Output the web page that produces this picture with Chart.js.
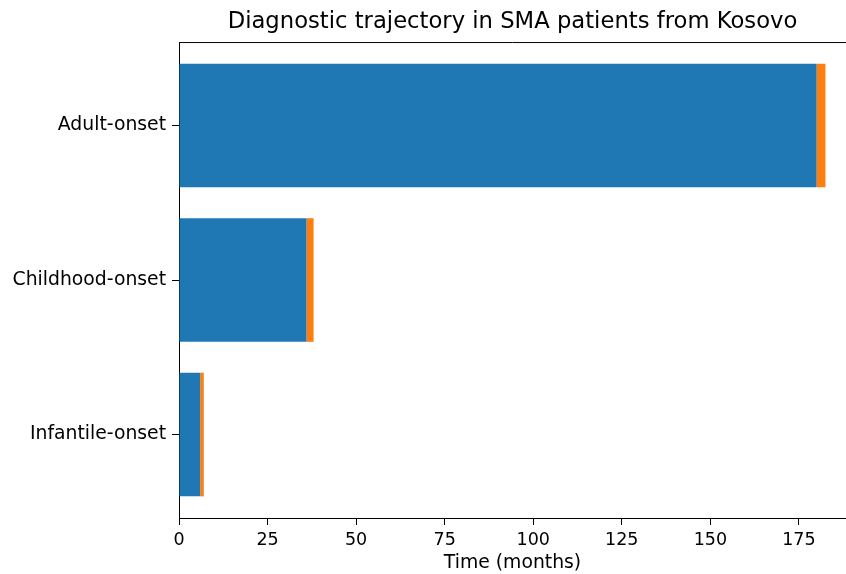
<!DOCTYPE html>
<html>
<head>
<meta charset="utf-8">
<script src="https://cdn.jsdelivr.net/npm/chart.js@4"></script>
<style>
  html, body { margin: 0; padding: 0; background: #fff; }
  #wrap { width: 846px; height: 574px; }
</style>
</head>
<body>
<div id="wrap"><canvas id="myChart"></canvas></div>
<script>
// data
const categories = ['Adult-onset', 'Childhood-onset', 'Infantile-onset'];
const blueValues = [180, 36, 6];
const orangeValues = [2.5, 2, 1];
const xTicks = [0, 25, 50, 75, 100, 125, 150, 175];
const xVisibleMax = 188.3; // right edge of the cropped axes

Chart.defaults.font.family = "'DejaVu Sans', sans-serif";
Chart.defaults.color = '#000';

// top spine of the matplotlib-style frame
const topSpine = {
    id: 'topSpine',
    afterDraw(chart) {
        const a = chart.chartArea;
        const c = chart.ctx;
        c.save();
        c.strokeStyle = '#000';
        c.lineWidth = 1;
        c.beginPath();
        c.moveTo(a.left, a.top + 0.5);
        c.lineTo(a.right, a.top + 0.5);
        c.stroke();
        c.restore();
    }
};

const ctx = document.getElementById('myChart').getContext('2d');
const myChart = new Chart(ctx, {
    type: 'bar',
    data: {
        datasets: [
            {
                label: 'blue',
                data: blueValues.map((v, i) => ({ x: v, y: i })),
                backgroundColor: '#1f77b4',
                barPercentage: 1,
                categoryPercentage: 0.8
            },
            {
                label: 'orange',
                data: orangeValues.map((v, i) => ({ x: v, y: i })),
                backgroundColor: '#ff7f0e',
                barPercentage: 1,
                categoryPercentage: 0.8
            }
        ]
    },
    options: {
        indexAxis: 'y',
        responsive: true,
        maintainAspectRatio: false,
        animation: false,
        layout: { padding: 0 },
        scales: {
            x: {
                type: 'linear',
                stacked: true,
                min: 0,
                max: xVisibleMax,
                afterBuildTicks: (scale) => {
                    scale.ticks = xTicks.map(v => ({ value: v }));
                },
                afterFit: (scale) => { scale.height = 56; },
                grid: {
                    drawOnChartArea: false,
                    drawTicks: true,
                    tickLength: 7,
                    color: '#000'
                },
                border: { display: true, color: '#000', width: 1 },
                ticks: {
                    font: { size: 17.5 },
                    padding: 5,
                    maxRotation: 0,
                    color: '#000'
                },
                title: {
                    display: true,
                    text: 'Time (months)',
                    font: { size: 18.8 },
                    padding: { top: 0, bottom: 0 },
                    color: '#000'
                }
            },
            y: {
                type: 'linear',
                stacked: true,
                reverse: true,
                offset: false,
                min: -0.54,
                max: 2.54,
                afterBuildTicks: (scale) => {
                    scale.ticks = categories.map((c, i) => ({ value: i }));
                },
                afterFit: (scale) => { scale.width = 179; },
                grid: {
                    offset: false,
                    drawOnChartArea: false,
                    drawTicks: true,
                    tickLength: 7,
                    color: '#000'
                },
                border: { display: true, color: '#000', width: 1 },
                ticks: {
                    font: { size: 18.8 },
                    padding: 6,
                    color: '#000',
                    callback: (v) => categories[v]
                }
            }
        },
        plugins: {
            legend: { display: false },
            tooltip: { enabled: false },
            title: {
                display: true,
                text: 'Diagnostic trajectory in SMA patients from Kosovo',
                fullSize: false,
                font: { size: 22.7, weight: 'normal' },
                color: '#000',
                padding: { top: 8, bottom: 6.8 }
            }
        }
    },
    plugins: [topSpine]
});
</script>
</body>
</html>
